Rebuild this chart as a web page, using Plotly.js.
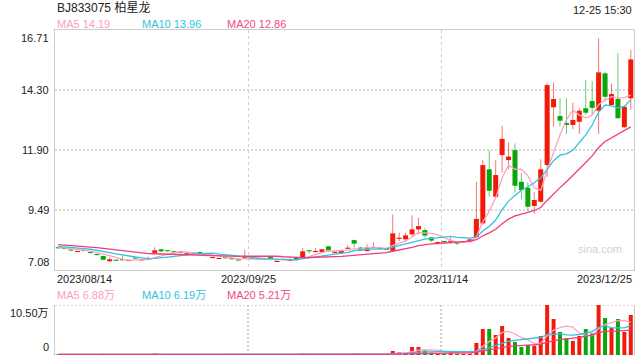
<!DOCTYPE html>
<html><head><meta charset="utf-8">
<script src="https://cdn.plot.ly/plotly-3.0.1.min.js"></script>
<style>html,body{margin:0;padding:0;background:#fff}#chart{width:640px;height:360px}</style>
</head><body><div id="chart"></div>
<script>
const dates = [
"2023/08/14","2023/08/15","2023/08/16","2023/08/17","2023/08/18","2023/08/21","2023/08/22","2023/08/23","2023/08/24","2023/08/25",
"2023/08/28","2023/08/29","2023/08/30","2023/08/31","2023/09/01","2023/09/04","2023/09/05","2023/09/06","2023/09/07","2023/09/08",
"2023/09/11","2023/09/12","2023/09/13","2023/09/14","2023/09/15","2023/09/18","2023/09/19","2023/09/20","2023/09/21","2023/09/22",
"2023/09/25","2023/09/26","2023/09/27","2023/09/28","2023/10/09","2023/10/10","2023/10/11","2023/10/12","2023/10/13","2023/10/16",
"2023/10/17","2023/10/18","2023/10/19","2023/10/20","2023/10/23","2023/10/24","2023/10/25","2023/10/26","2023/10/27","2023/10/30",
"2023/10/31","2023/11/01","2023/11/02","2023/11/03","2023/11/06","2023/11/07","2023/11/08","2023/11/09","2023/11/10","2023/11/13",
"2023/11/14","2023/11/15","2023/11/16","2023/11/17","2023/11/20","2023/11/21","2023/11/22","2023/11/23","2023/11/24","2023/11/27",
"2023/11/28","2023/11/29","2023/11/30","2023/12/01","2023/12/04","2023/12/05","2023/12/06","2023/12/07","2023/12/08","2023/12/11",
"2023/12/12","2023/12/13","2023/12/14","2023/12/15","2023/12/18","2023/12/19","2023/12/20","2023/12/21","2023/12/22","2023/12/25"];

const openP = [
7.96,7.94,7.88,7.80,7.86,7.79,7.70,7.64,7.43,7.47,
7.49,7.44,7.56,7.47,7.50,7.77,7.91,7.85,7.80,7.77,
7.71,7.75,7.80,7.66,7.56,7.52,7.57,7.53,7.48,7.55,
7.54,7.53,7.52,7.60,7.40,7.50,7.44,7.54,7.59,7.85,
7.80,7.80,8.03,7.76,7.76,7.93,8.28,7.98,7.84,7.96,
7.95,7.89,7.85,8.33,8.31,8.51,8.71,8.68,8.39,8.16,
8.24,8.21,8.18,8.19,8.21,8.40,8.95,11.12,10.02,11.69,
11.49,11.89,10.62,10.38,9.65,9.82,11.29,13.61,13.26,12.98,
12.90,13.03,13.57,13.86,13.47,14.97,13.70,13.94,12.81,13.97];
const highP = [
7.97,7.95,7.89,7.83,7.87,7.80,7.71,7.65,7.58,7.48,
7.64,7.47,7.57,7.50,7.62,7.99,7.93,7.86,7.81,7.80,
7.74,7.76,7.81,7.67,7.61,7.57,7.58,7.54,7.49,7.89,
7.55,7.54,7.53,7.61,7.49,7.51,7.56,7.55,7.96,7.86,
7.96,7.93,8.05,7.83,7.90,8.07,8.30,8.00,8.11,8.18,
7.96,7.98,9.31,8.58,8.58,9.27,9.18,8.77,8.40,8.22,
8.25,8.38,8.19,8.24,8.33,10.62,11.49,11.87,11.49,12.87,
12.20,12.16,10.98,10.60,10.20,11.52,14.57,14.61,13.97,13.97,
13.79,13.57,14.70,14.66,16.38,15.02,14.57,15.78,13.69,15.91];
const lowP = [
7.94,7.91,7.83,7.79,7.83,7.75,7.66,7.47,7.40,7.44,
7.46,7.43,7.53,7.46,7.49,7.76,7.80,7.82,7.78,7.76,
7.70,7.73,7.71,7.63,7.55,7.51,7.54,7.50,7.45,7.54,
7.52,7.50,7.49,7.48,7.39,7.47,7.43,7.48,7.57,7.74,
7.79,7.79,7.80,7.75,7.75,7.92,7.98,7.85,7.83,7.95,
7.90,7.88,7.84,8.24,8.20,8.44,8.51,8.38,8.20,8.13,
8.17,8.14,8.08,8.17,8.19,8.38,8.90,10.02,9.98,10.98,
11.12,10.20,9.92,9.45,9.35,9.80,10.82,12.83,12.83,12.54,
12.73,12.54,13.30,13.30,12.54,13.83,13.66,13.15,12.78,13.50];
const closeP = [
7.95,7.92,7.86,7.82,7.84,7.76,7.68,7.49,7.51,7.45,
7.47,7.46,7.54,7.49,7.54,7.87,7.83,7.83,7.79,7.79,
7.73,7.74,7.72,7.64,7.59,7.54,7.55,7.51,7.46,7.57,
7.53,7.51,7.50,7.49,7.44,7.48,7.46,7.52,7.83,7.83,
7.83,7.91,7.86,7.78,7.88,7.97,8.14,7.87,7.98,7.98,
7.93,7.91,8.55,8.37,8.47,8.71,8.84,8.46,8.26,8.18,
8.20,8.24,8.14,8.22,8.31,9.13,11.29,10.26,10.89,12.34,
11.63,10.46,10.29,9.62,9.89,11.12,14.50,13.94,13.07,12.90,
13.10,13.47,13.39,13.59,15.01,14.03,14.14,13.17,13.63,15.53];
// volume in 万 shares
const volume = [
0.15,0.10,0.12,0.08,0.10,0.12,0.18,0.25,0.20,0.10,
0.12,0.08,0.10,0.09,0.12,0.30,0.18,0.10,0.08,0.09,
0.10,0.07,0.12,0.10,0.09,0.08,0.07,0.08,0.10,0.15,
0.06,0.07,0.06,0.10,0.12,0.06,0.08,0.07,0.30,0.15,
0.12,0.14,0.20,0.10,0.15,0.18,0.35,0.15,0.20,0.18,
0.12,0.15,0.84,0.56,0.40,1.68,1.68,1.05,0.49,0.30,
0.35,0.45,0.30,0.25,0.35,2.52,5.46,5.46,4.20,6.09,
3.57,2.73,1.68,2.10,1.96,3.99,10.50,7.56,4.83,3.50,
2.94,3.99,5.46,4.55,10.50,7.77,5.67,7.56,4.83,8.40];
// estimated closes / volumes of the sessions before the window (read from the MA lines' start)
const priorCloses = [8.25,8.22,8.20,8.18,8.21,8.16,8.15,8.12,8.10,8.14,8.08,8.10,8.06,8.05,8.02,8.03,7.98,8.00,7.97];
const priorVolumes = [0.15,0.12,0.18,0.10,0.14,0.12,0.16,0.10,0.12,0.15,0.11,0.13,0.12,0.10,0.14,0.12,0.10,0.13,0.11];

const stockTitle = "BJ833075 柏星龙";
const timeStamp = "12-25 15:30";
const priceTickVals = [16.71, 14.30, 11.90, 9.49, 7.08];
const priceTickText = ["16.71", "14.30", "11.90", "9.49", "7.08"];
const volTickVals = [10.5, 0];
const volTickText = ["10.50万", "0"];
const maPeriods = [5, 10, 20];
const maNames = ["MA5", "MA10", "MA20"];
const priceMAText = ["14.19", "13.96", "12.86"];
const volMAText = ["6.88万", "6.19万", "5.21万"];
const dateLabelIdx = [0, 30, 60, 89];

const RED = '#f21a0a', GREEN = '#0aa60a';
const RED_W = 'rgba(242,26,10,0.6)', GREEN_W = 'rgba(10,166,10,0.6)';
const MA_COLORS = ['#fba3c2', '#36c1e2', '#ee3f7c'];
const MA_TEXT = ['#f9a0c0', '#2ec3e3', '#f04880'];
const FONT = 'Arial, "Liberation Sans", "Noto Sans CJK SC", sans-serif';

const idx = dates.map((d, i) => i);
const up = closeP.map((c, i) => c >= openP[i]);

function movingAvg(series, prior, n) {
  const all = prior.concat(series);
  return series.map((_, i) => {
    const end = prior.length + i;
    const start = Math.max(0, end - n + 1);
    let s = 0;
    for (let k = start; k <= end; k++) s += all[k];
    return s / (end - start + 1);
  });
}

function wickTrace(isUp, color) {
  const xs = [], ys = [];
  idx.forEach(i => { if (up[i] === isUp) { xs.push(i, i, null); ys.push(lowP[i], highP[i], null); } });
  return {type: 'scatter', mode: 'lines', x: xs, y: ys, xaxis: 'x', yaxis: 'y',
          line: {color: color, width: 1}, hoverinfo: 'skip', showlegend: false};
}

const traces = [wickTrace(true, RED_W), wickTrace(false, GREEN_W)];
traces.push({
  type: 'bar', x: idx, base: idx.map(i => Math.min(openP[i], closeP[i])),
  y: idx.map(i => Math.max(Math.abs(closeP[i] - openP[i]), 0.045)),
  width: 0.78, marker: {color: idx.map(i => up[i] ? RED : GREEN), line: {width: 0}},
  xaxis: 'x', yaxis: 'y', showlegend: false, hoverinfo: 'skip'
});
maPeriods.forEach((n, k) => {
  traces.push({type: 'scatter', mode: 'lines', x: idx, y: movingAvg(closeP, priorCloses, n),
    xaxis: 'x', yaxis: 'y', line: {color: MA_COLORS[k], width: 1.3}, showlegend: false, hoverinfo: 'skip'});
});
traces.push({
  type: 'bar', x: idx, y: volume, width: 0.62,
  marker: {color: idx.map(i => up[i] ? RED : GREEN), line: {width: 0}},
  xaxis: 'x2', yaxis: 'y2', showlegend: false, hoverinfo: 'skip'
});
maPeriods.forEach((n, k) => {
  traces.push({type: 'scatter', mode: 'lines', x: idx, y: movingAvg(volume, priorVolumes, n),
    xaxis: 'x2', yaxis: 'y2', line: {color: MA_COLORS[k], width: 1.3}, showlegend: false, hoverinfo: 'skip'});
});

const H = 325; // plot area height in px (360 - 30 - 5)
const py = px => (355 - px) / H; // pixel y -> paper y
const xRange = [-0.5, dates.length - 0.5];
const gridX = [dates.length / 3 - 0.5, 2 * dates.length / 3 - 0.5];

const ann = [];
ann.push({xref: 'paper', yref: 'paper', x: 0, y: py(8), xanchor: 'left', yanchor: 'middle',
  text: stockTitle, showarrow: false, font: {family: FONT, size: 12, color: '#222'}});
ann.push({xref: 'paper', yref: 'paper', x: 1, y: py(9.5), xanchor: 'right', yanchor: 'middle',
  text: timeStamp, showarrow: false, font: {family: FONT, size: 11, color: '#222'}});
const legX = [0, 85, 170];
maNames.forEach((nm, k) => {
  ann.push({xref: 'paper', yref: 'paper', x: 0, xshift: legX[k], y: py(24), xanchor: 'left', yanchor: 'middle',
    text: nm + ' ' + priceMAText[k], showarrow: false, font: {family: FONT, size: 11, color: MA_TEXT[k]}});
  ann.push({xref: 'paper', yref: 'paper', x: 0, xshift: legX[k], y: py(295), xanchor: 'left', yanchor: 'middle',
    text: nm + ' ' + volMAText[k], showarrow: false, font: {family: FONT, size: 11, color: MA_TEXT[k]}});
});
priceTickVals.forEach((v, k) => {
  const ya = k === 0 ? 'top' : (k === priceTickVals.length - 1 ? 'bottom' : 'middle');
  ann.push({xref: 'paper', yref: 'y', x: 0, xshift: -4, y: v, xanchor: 'right', yanchor: ya,
    text: priceTickText[k], showarrow: false, font: {family: FONT, size: 11, color: '#222'}});
});
volTickVals.forEach((v, k) => {
  ann.push({xref: 'paper', yref: 'y2', x: 0, xshift: -4, y: v, xanchor: 'right', yanchor: k === 0 ? 'top' : 'bottom',
    text: volTickText[k], showarrow: false, font: {family: FONT, size: 11, color: '#222'}});
});
const dateX = [xRange[0], gridX[0], gridX[1], xRange[1]];
const dateAnchor = ['left', 'center', 'center', 'right'];
dateLabelIdx.forEach((di, k) => {
  ann.push({xref: 'x', yref: 'y domain', x: dateX[k], y: 0, yshift: -1, xanchor: dateAnchor[k], yanchor: 'top',
    text: dates[di], showarrow: false, font: {family: FONT, size: 11, color: '#222'}});
});
ann.push({xref: 'paper', yref: 'y domain', x: 1, xshift: -10, y: 0, yshift: 21, xanchor: 'right', yanchor: 'middle',
  text: 'sina.com', showarrow: false, font: {family: FONT, size: 11, color: '#d2d2d2'}});

const layout = {
  width: 640, height: 360, margin: {l: 55, r: 6, t: 30, b: 5},
  paper_bgcolor: '#fff', plot_bgcolor: '#fff', showlegend: false, barmode: 'overlay',
  xaxis: {domain: [0, 1], anchor: 'y', range: xRange, tickvals: gridX, showticklabels: false, ticks: '',
    showgrid: true, gridcolor: '#cfcfcf', griddash: '3px,3px', gridwidth: 1,
    showline: true, mirror: true, linecolor: '#cccccc', linewidth: 1, zeroline: false, fixedrange: true},
  yaxis: {domain: [(355 - 270) / H, 1], anchor: 'x', range: [priceTickVals[4], priceTickVals[0]],
    tickvals: priceTickVals.slice(1, 4), showticklabels: false, ticks: '',
    showgrid: true, gridcolor: '#d8d8d8', griddash: '2px,2px', gridwidth: 1.5,
    showline: true, mirror: true, linecolor: '#cccccc', linewidth: 1, zeroline: false, fixedrange: true},
  xaxis2: {domain: [0, 1], anchor: 'y2', range: xRange, tickvals: gridX, showticklabels: false, ticks: '',
    showgrid: true, gridcolor: '#cfcfcf', griddash: '2px,2px', gridwidth: 1.5,
    showline: false, zeroline: false, fixedrange: true},
  yaxis2: {domain: [0, 50 / H], anchor: 'x2', range: [0, volTickVals[0]], showticklabels: false, ticks: '',
    showgrid: false, showline: true, mirror: true, linecolor: '#cccccc', linewidth: 1, zeroline: false, fixedrange: true},
  shapes: volTickVals.map(v => ({type: 'line', xref: 'paper', yref: 'y2', x0: 0, x1: 1, y0: v, y1: v, layer: 'below',
    line: {color: '#d0d0d0', width: 1.5, dash: '2px,2px'}})),
  annotations: ann
};

Plotly.newPlot('chart', traces, layout, {staticPlot: true, displayModeBar: false});
</script>
</body></html>
